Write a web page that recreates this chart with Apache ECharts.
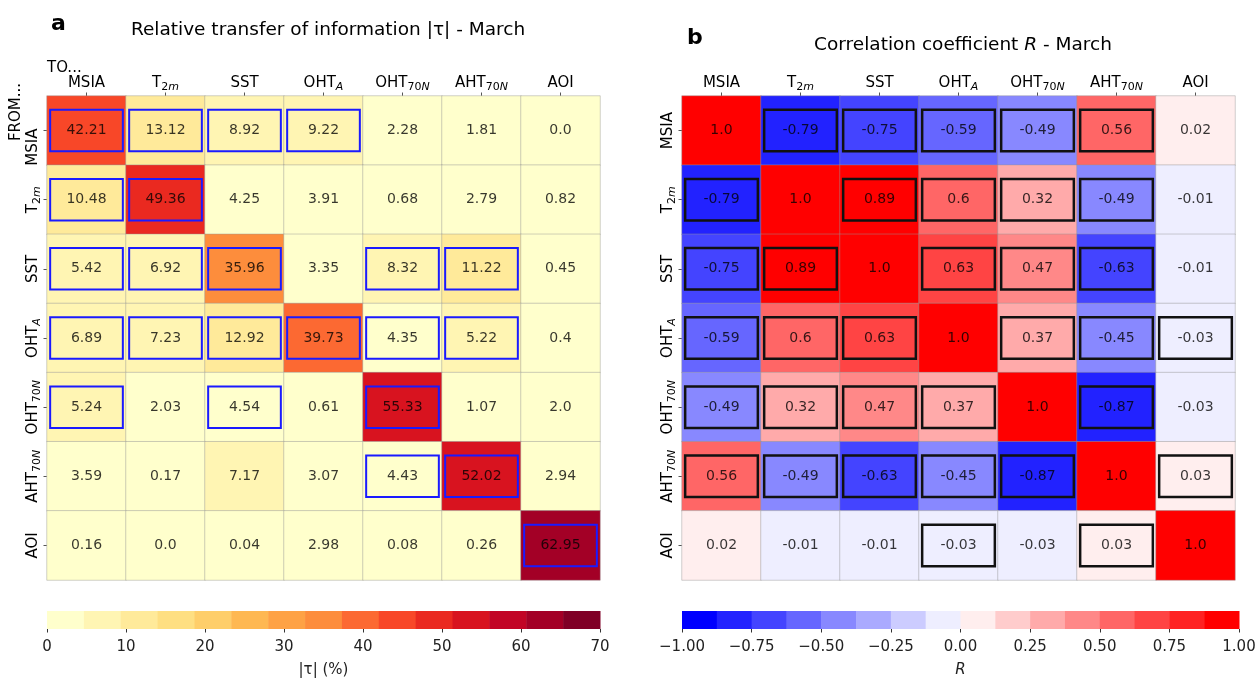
<!DOCTYPE html>
<html>
<head>
<meta charset="utf-8">
<script src="https://cdn.jsdelivr.net/npm/echarts@6/dist/echarts.min.js"></script>
<style>
html,body{margin:0;padding:0;background:#fff;}
#chart{width:1259px;height:679px;}
</style>
</head>
<body>
<div id="chart"></div>
<script>
// ---------------- DATA ----------------
const categories = ['MSIA', 'T2m', 'SST', 'OHTA', 'OHT70N', 'AHT70N', 'AOI'];

// Relative transfer of information |tau| (%) - rows FROM, columns TO
const tauMSIA   = [42.21, 13.12, 8.92, 9.22, 2.28, 1.81, 0.0];
const tauT2m    = [10.48, 49.36, 4.25, 3.91, 0.68, 2.79, 0.82];
const tauSST    = [5.42, 6.92, 35.96, 3.35, 8.32, 11.22, 0.45];
const tauOHTA   = [6.89, 7.23, 12.92, 39.73, 4.35, 5.22, 0.4];
const tauOHT70N = [5.24, 2.03, 4.54, 0.61, 55.33, 1.07, 2.0];
const tauAHT70N = [3.59, 0.17, 7.17, 3.07, 4.43, 52.02, 2.94];
const tauAOI    = [0.16, 0.0, 0.04, 2.98, 0.08, 0.26, 62.95];

// Significant transfers (boxed in blue)
const sigTauMSIA   = [1, 1, 1, 1, 0, 0, 0];
const sigTauT2m    = [1, 1, 0, 0, 0, 0, 0];
const sigTauSST    = [1, 1, 1, 0, 1, 1, 0];
const sigTauOHTA   = [1, 1, 1, 1, 1, 1, 0];
const sigTauOHT70N = [1, 0, 1, 0, 1, 0, 0];
const sigTauAHT70N = [0, 0, 0, 0, 1, 1, 0];
const sigTauAOI    = [0, 0, 0, 0, 0, 0, 1];

// Correlation coefficient R
const rMSIA   = [1.0, -0.79, -0.75, -0.59, -0.49, 0.56, 0.02];
const rT2m    = [-0.79, 1.0, 0.89, 0.6, 0.32, -0.49, -0.01];
const rSST    = [-0.75, 0.89, 1.0, 0.63, 0.47, -0.63, -0.01];
const rOHTA   = [-0.59, 0.6, 0.63, 1.0, 0.37, -0.45, -0.03];
const rOHT70N = [-0.49, 0.32, 0.47, 0.37, 1.0, -0.87, -0.03];
const rAHT70N = [0.56, -0.49, -0.63, -0.45, -0.87, 1.0, 0.03];
const rAOI    = [0.02, -0.01, -0.01, -0.03, -0.03, 0.03, 1.0];

// Significant correlations (boxed in black)
const sigRMSIA   = [0, 1, 1, 1, 1, 1, 0];
const sigRT2m    = [1, 0, 1, 1, 1, 1, 0];
const sigRSST    = [1, 1, 0, 1, 1, 1, 0];
const sigROHTA   = [1, 1, 1, 0, 1, 1, 1];
const sigROHT70N = [1, 1, 1, 1, 0, 1, 0];
const sigRAHT70N = [1, 1, 1, 1, 1, 0, 1];
const sigRAOI    = [0, 0, 0, 1, 0, 1, 0];

// Colorbar ranges / ticks
const tauRange = [0, 70], tauBins = 15, tauTickStep = 10;
const rRange = [-1, 1], rBins = 16, rTickStep = 0.25;

// ---------------- helpers ----------------
const tauRows = [tauMSIA, tauT2m, tauSST, tauOHTA, tauOHT70N, tauAHT70N, tauAOI];
const sigTauRows = [sigTauMSIA, sigTauT2m, sigTauSST, sigTauOHTA, sigTauOHT70N, sigTauAHT70N, sigTauAOI];
const rRows = [rMSIA, rT2m, rSST, rOHTA, rOHT70N, rAHT70N, rAOI];
const sigRRows = [sigRMSIA, sigRT2m, sigRSST, sigROHTA, sigROHT70N, sigRAHT70N, sigRAOI];

const FONT = 'DejaVu Sans';
const ylorrd = [[255,255,204],[255,237,160],[254,217,118],[254,178,76],[253,141,60],[252,78,42],[227,26,28],[189,0,38],[128,0,38]];
function cmapYlOrRd(t){
  const p = t * (ylorrd.length - 1);
  const i = Math.min(Math.floor(p), ylorrd.length - 2);
  const f = p - i;
  const c = ylorrd[i].map((v, k) => Math.round(v + f * (ylorrd[i+1][k] - v)));
  return 'rgb(' + c.join(',') + ')';
}
function cmapBwr(t){
  let r, g, b;
  if (t <= 0.5) { r = 2*t; g = 2*t; b = 1; } else { r = 1; g = 2*(1-t); b = 2*(1-t); }
  return 'rgb(' + [r,g,b].map(v => Math.round(v*255)).join(',') + ')';
}
function binColors(range, n, cmap){
  const out = [];
  const step = (range[1]-range[0])/n;
  for (let i = 0; i < n; i++) out.push({lo: range[0]+i*step, hi: range[0]+(i+1)*step, color: cmap(i/(n-1))});
  return out;
}
const tauColorBins = binColors(tauRange, tauBins, cmapYlOrRd);
const rColorBins = binColors(rRange, rBins, cmapBwr);
function pieces(bins){
  return bins.map((b, i) => i === bins.length-1 ? {gte: b.lo, lte: b.hi, color: b.color} : {gte: b.lo, lt: b.hi, color: b.color});
}
function heatData(rows){
  const d = [];
  rows.forEach((row, r) => row.forEach((v, c) => d.push([c, r, v])));
  return d;
}
function sigData(rows){
  const d = [];
  rows.forEach((row, r) => row.forEach((v, c) => { if (v) d.push([c, r]); }));
  return d;
}
function fmtVal(v){ return Number.isInteger(v) ? v.toFixed(1) : String(v); }

const labelRich = {
  sub: {fontFamily: FONT, fontSize: 11, color: '#000', verticalAlign: 'bottom', lineHeight: 11, padding: [0,0,-1,0]},
  subi: {fontFamily: FONT, fontSize: 11, fontStyle: 'italic', color: '#000', verticalAlign: 'bottom', lineHeight: 11, padding: [0,0,-1,0]},
  shift: {fontFamily: FONT, fontSize: 15, color: '#000', padding: [0,33,0,0]}
};
const richNames = {MSIA: 'MSIA', T2m: 'T{sub|2}{subi|m}', SST: 'SST', OHTA: 'OHT{subi|A}', OHT70N: 'OHT{sub|70}{subi|N}', AHT70N: 'AHT{sub|70}{subi|N}', AOI: 'AOI'};

function catXAxis(gi){
  return {
    type: 'category', gridIndex: gi, data: categories, position: 'top',
    axisLine: {show: false}, splitLine: {show: false},
    axisTick: {show: true, alignWithLabel: true, length: 3.5, lineStyle: {color: '#555'}},
    axisLabel: {interval: 0, hideOverlap: false, fontFamily: FONT, fontSize: 15, color: '#000', margin: 4, lineHeight: 18,
      formatter: v => richNames[v], rich: labelRich}
  };
}
function catYAxis(gi, shiftFirst){
  return {
    type: 'category', gridIndex: gi, data: categories, inverse: true,
    axisLine: {show: false}, splitLine: {show: false},
    axisTick: {show: true, alignWithLabel: true, length: 3.5, lineStyle: {color: '#555'}},
    axisLabel: {interval: 0, hideOverlap: false, fontFamily: FONT, fontSize: 15, color: '#000', rotate: 90, margin: 5, lineHeight: 18,
      formatter: (v, i) => (shiftFirst && v === 'MSIA') ? '{shift|MSIA}' : richNames[v], rich: labelRich}
  };
}
function cbarXAxis(gi, range, step, fmt, name, italic){
  return {
    type: 'value', gridIndex: gi, min: range[0], max: range[1], interval: step,
    axisLine: {show: false}, splitLine: {show: false},
    axisTick: {show: true, length: 3.5, lineStyle: {color: '#333'}},
    axisLabel: {fontFamily: FONT, fontSize: 15, color: '#222', margin: 11, formatter: fmt, showMinLabel: true, showMaxLabel: true},
    name: name, nameLocation: 'middle', nameGap: 34,
    nameTextStyle: {fontFamily: FONT, fontSize: 15, color: '#222', fontStyle: italic ? 'italic' : 'normal'}
  };
}
function cbarYAxis(gi){
  return {type: 'value', gridIndex: gi, min: 0, max: 1, show: false};
}
function boxSeries(xi, rows, color, lw){
  return {
    type: 'custom', xAxisIndex: xi, yAxisIndex: xi, data: sigData(rows), z: 5, silent: true,
    encode: {x: 0, y: 1},
    renderItem: function(params, api){
      const c = api.coord([api.value(0), api.value(1)]);
      const s = api.size([1, 1]);
      const w = s[0]*0.92, h = s[1]*0.6;
      return {type: 'rect', shape: {x: c[0]-w/2, y: c[1]-h/2, width: w, height: h},
        style: {fill: 'none', stroke: color, lineWidth: lw}};
    }
  };
}
function cbarSeries(xi, bins){
  return {
    type: 'custom', xAxisIndex: xi, yAxisIndex: xi, silent: true,
    data: bins.map(b => [b.lo, b.hi, b.color]),
    renderItem: function(params, api){
      const p0 = api.coord([api.value(0), 1]);
      const p1 = api.coord([api.value(1), 0]);
      return {type: 'rect', shape: {x: p0[0], y: p0[1], width: p1[0]-p0[0]+0.5, height: p1[1]-p0[1]},
        style: {fill: bins[params.dataIndex].color}};
    }
  };
}
function heatSeries(xi, rows){
  return {
    type: 'heatmap', xAxisIndex: xi, yAxisIndex: xi, data: heatData(rows),
    itemStyle: {borderColor: 'rgba(150,150,150,0.45)', borderWidth: 1},
    label: {show: true, fontFamily: FONT, fontSize: 14, color: 'rgba(0,0,0,0.78)', formatter: p => fmtVal(p.value[2])},
    emphasis: {disabled: true}
  };
}

const chart = echarts.init(document.getElementById('chart'), null, {renderer: 'canvas'});
chart.setOption({
  backgroundColor: '#fff',
  animation: false,
  title: [
    {text: 'a', left: 46, top: 8, textStyle: {fontFamily: FONT, fontSize: 22, fontWeight: 'bold', color: '#000'}},
    {text: 'Relative transfer of information |τ| - March', left: 323, top: 16, textAlign: 'center',
      textStyle: {fontFamily: FONT, fontSize: 18.5, fontWeight: 'normal', color: '#000'}},
    {text: 'b', left: 682, top: 22, textStyle: {fontFamily: FONT, fontSize: 22, fontWeight: 'bold', color: '#000'}},
    {text: 'Correlation coefficient {i|R} - March', left: 958, top: 31, textAlign: 'center',
      textStyle: {fontFamily: FONT, fontSize: 18.5, fontWeight: 'normal', color: '#000',
        rich: {i: {fontFamily: FONT, fontSize: 18.5, fontStyle: 'italic', color: '#000'}}}}
  ],
  grid: [
    {left: 47, top: 96, width: 553, height: 484},
    {left: 682, top: 96, width: 553, height: 484},
    {left: 47, top: 611, width: 553, height: 28},
    {left: 682, top: 611, width: 557, height: 28}
  ],
  xAxis: [catXAxis(0), catXAxis(1),
    cbarXAxis(2, tauRange, tauTickStep, v => String(v), '|τ| (%)', false),
    cbarXAxis(3, rRange, rTickStep, v => (v < 0 ? '\u2212' : '') + Math.abs(v).toFixed(2), 'R', true)],
  yAxis: [catYAxis(0, true), catYAxis(1, false), cbarYAxis(2), cbarYAxis(3)],
  visualMap: [
    {type: 'piecewise', show: false, seriesIndex: 0, dimension: 2, pieces: pieces(tauColorBins)},
    {type: 'piecewise', show: false, seriesIndex: 1, dimension: 2, pieces: pieces(rColorBins)}
  ],
  graphic: [
    {type: 'text', left: 47, top: 61, style: {text: 'TO...', font: '15px "DejaVu Sans"', fill: '#000'}},
    {type: 'text', x: 16, y: 112, rotation: Math.PI/2, style: {text: 'FROM...', font: '15px "DejaVu Sans"', fill: '#000', textAlign: 'center', textVerticalAlign: 'middle'}}
  ],
  series: [
    heatSeries(0, tauRows),
    heatSeries(1, rRows),
    boxSeries(0, sigTauRows, '#1a1aff', 2),
    boxSeries(1, sigRRows, '#111', 2.5),
    cbarSeries(2, tauColorBins),
    cbarSeries(3, rColorBins)
  ]
});
</script>
</body>
</html>
